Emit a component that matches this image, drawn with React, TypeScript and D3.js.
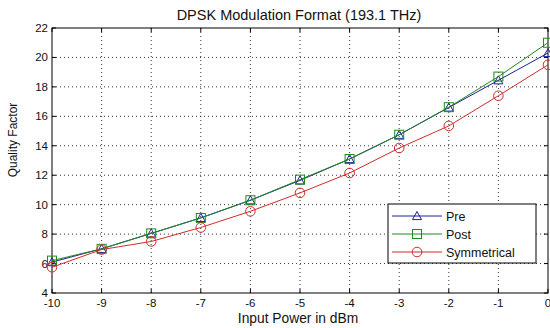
import React from "react";
import * as d3 from "d3";

const xValues = [-10, -9, -8, -7, -6, -5, -4, -3, -2, -1, 0];
const preValues = [6.1, 7.0, 8.05, 9.1, 10.3, 11.65, 13.1, 14.75, 16.6, 18.45, 20.3];
const postValues = [6.2, 7.0, 8.05, 9.1, 10.3, 11.7, 13.1, 14.75, 16.62, 18.7, 21.0];
const symValues = [5.75, 6.95, 7.5, 8.45, 9.55, 10.8, 12.15, 13.85, 15.35, 17.4, 19.5];
const yTicks = [4, 6, 8, 10, 12, 14, 16, 18, 20, 22];
const seriesNames = ["Pre", "Post", "Symmetrical"];
const seriesColors = ["#1f1f9a", "#1e8a1e", "#d42a2a"];
const seriesMarkers = ["triangle", "square", "circle"];

const W = 550, H = 328;
const M = { left: 52, right: 548, top: 28, bottom: 293 };

function Marker({ type, x, y, color }: { type: string; x: number; y: number; color: string }) {
  if (type === "triangle") {
    const s = 4.5;
    return <path d={`M${x},${y - s} L${x + s},${y + s * 0.8} L${x - s},${y + s * 0.8} Z`} fill="none" stroke={color} strokeWidth={1} />;
  }
  if (type === "square") {
    return <rect x={x - 4.5} y={y - 4.5} width={9} height={9} fill="none" stroke={color} strokeWidth={1} />;
  }
  return <circle cx={x} cy={y} r={4.8} fill="none" stroke={color} strokeWidth={1} />;
}

export default function App() {
  const x = d3.scaleLinear().domain([-10, 0]).range([M.left, M.right]);
  const y = d3.scaleLinear().domain([4, 22]).range([M.bottom, M.top]);
  const data = [preValues, postValues, symValues];
  const line = d3.line<number>().x((_, i) => x(xValues[i])).y((d) => y(d));
  const font = "'Liberation Sans', Arial, sans-serif";
  const lx0 = 392, lx1 = 442, ly = [216, 234, 252];
  return (
    <svg width={W} height={H} style={{ position: "absolute", left: 0, top: 0, background: "#fff" }} fontFamily={font}>
      <rect x={0} y={0} width={W} height={H} fill="#fff" />
      {/* grid */}
      {xValues.slice(1, -1).map((v) => (
        <line key={"gx" + v} x1={x(v)} x2={x(v)} y1={M.top} y2={M.bottom} stroke="#333" strokeWidth={1} strokeDasharray="1,3" />
      ))}
      {yTicks.slice(1, -1).map((v) => (
        <line key={"gy" + v} x1={M.left} x2={M.right} y1={y(v)} y2={y(v)} stroke="#333" strokeWidth={1} strokeDasharray="1,3" />
      ))}
      {/* ticks */}
      {xValues.map((v) => (
        <g key={"tx" + v}>
          <line x1={x(v)} x2={x(v)} y1={M.bottom} y2={M.bottom - 4} stroke="#000" />
          <line x1={x(v)} x2={x(v)} y1={M.top} y2={M.top + 4} stroke="#000" />
          <text x={x(v)} y={M.bottom + 14} fontSize={11.5} textAnchor="middle" fill="#111">{v}</text>
        </g>
      ))}
      {yTicks.map((v) => (
        <g key={"ty" + v}>
          <line x1={M.left} x2={M.left + 4} y1={y(v)} y2={y(v)} stroke="#000" />
          <line x1={M.right} x2={M.right - 4} y1={y(v)} y2={y(v)} stroke="#000" />
          <text x={M.left - 4} y={y(v) + 4} fontSize={11.5} textAnchor="end" fill="#111">{v}</text>
        </g>
      ))}
      <rect x={M.left} y={M.top} width={M.right - M.left} height={M.bottom - M.top} fill="none" stroke="#000" strokeWidth={1} />
      {/* series */}
      {data.map((vals, si) => (
        <g key={"s" + si}>
          <path d={line(vals) || ""} fill="none" stroke={seriesColors[si]} strokeWidth={1} />
          {vals.map((v, i) => (
            <Marker key={i} type={seriesMarkers[si]} x={x(xValues[i])} y={y(v)} color={seriesColors[si]} />
          ))}
        </g>
      ))}
      {/* legend */}
      <rect x={388} y={204} width={148} height={59} fill="#fff" stroke="#000" strokeWidth={1} />
      {seriesNames.map((n, i) => (
        <g key={"l" + i}>
          <line x1={lx0} x2={lx1} y1={ly[i]} y2={ly[i]} stroke={seriesColors[i]} />
          <Marker type={seriesMarkers[i]} x={(lx0 + lx1) / 2} y={ly[i]} color={seriesColors[i]} />
          <text x={446} y={ly[i] + 4.5} fontSize={12.5} fill="#111">{n}</text>
        </g>
      ))}
      <text x={299} y={20} fontSize={14.5} textAnchor="middle" fill="#111">DPSK Modulation Format (193.1 THz)</text>
      <text x={298} y={323} fontSize={13.8} textAnchor="middle" fill="#111">Input Power in dBm</text>
      <text transform={`translate(17,140) rotate(-90)`} fontSize={12} textAnchor="middle" fill="#111">Quality Factor</text>
    </svg>
  );
}
